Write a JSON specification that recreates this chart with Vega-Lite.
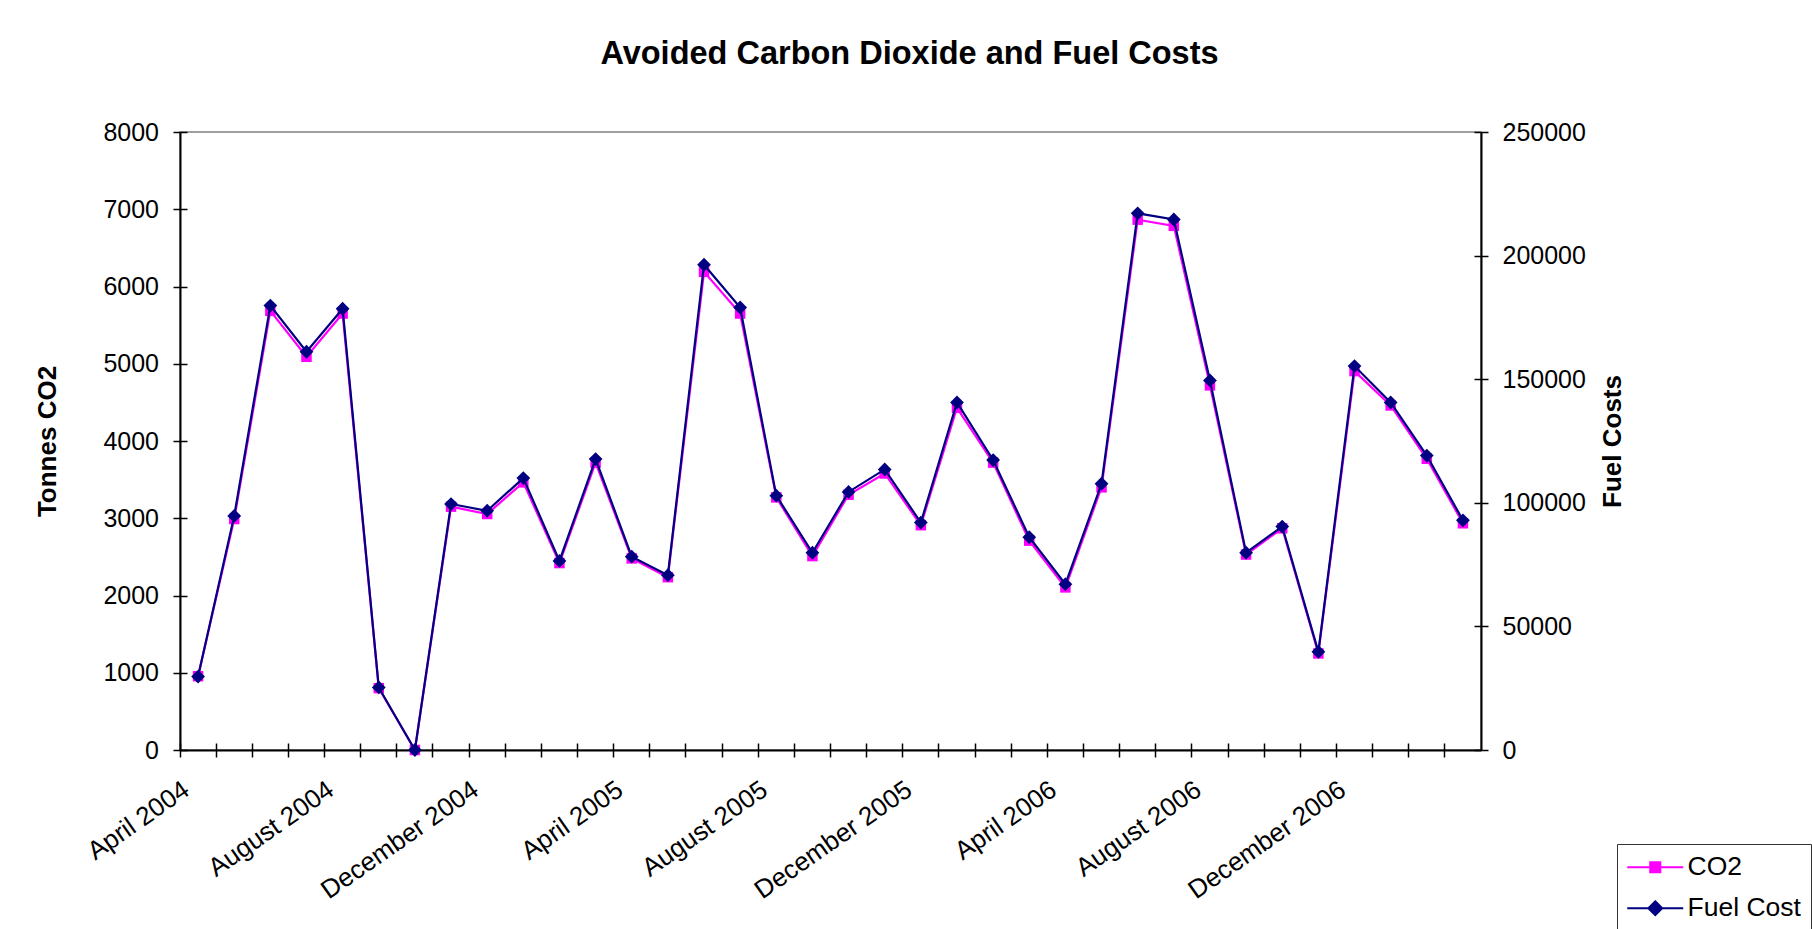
{
  "$schema": "https://vega.github.io/schema/vega-lite/v6.json",
  "width": 1301,
  "height": 618,
  "autosize": {"type": "none"},
  "padding": {"left": 180, "top": 132, "right": 331, "bottom": 179},
  "background": "white",
  "title": {
    "text": "Avoided Carbon Dioxide and Fuel Costs",
    "font": "Liberation Sans",
    "fontSize": 32.5,
    "fontWeight": "bold",
    "color": "black",
    "anchor": "middle",
    "frame": "group",
    "dx": 79,
    "offset": 24,
    "baseline": "alphabetic"
  },
  "data": {
    "values": [
      {"month": "April 2004", "CO2": 955, "FuelCost": 29700},
      {"month": "May 2004", "CO2": 2990, "FuelCost": 94700},
      {"month": "June 2004", "CO2": 5685, "FuelCost": 179800},
      {"month": "July 2004", "CO2": 5090, "FuelCost": 161100},
      {"month": "August 2004", "CO2": 5650, "FuelCost": 178500},
      {"month": "September 2004", "CO2": 800, "FuelCost": 25300},
      {"month": "October 2004", "CO2": 0, "FuelCost": 0},
      {"month": "November 2004", "CO2": 3150, "FuelCost": 99500},
      {"month": "December 2004", "CO2": 3055, "FuelCost": 96800},
      {"month": "January 2005", "CO2": 3465, "FuelCost": 110000},
      {"month": "February 2005", "CO2": 2420, "FuelCost": 76500},
      {"month": "March 2005", "CO2": 3720, "FuelCost": 117700},
      {"month": "April 2005", "CO2": 2480, "FuelCost": 78200},
      {"month": "May 2005", "CO2": 2237, "FuelCost": 70700},
      {"month": "June 2005", "CO2": 6190, "FuelCost": 196300},
      {"month": "July 2005", "CO2": 5650, "FuelCost": 179000},
      {"month": "August 2005", "CO2": 3270, "FuelCost": 102900},
      {"month": "September 2005", "CO2": 2510, "FuelCost": 79800},
      {"month": "October 2005", "CO2": 3305, "FuelCost": 104400},
      {"month": "November 2005", "CO2": 3580, "FuelCost": 113500},
      {"month": "December 2005", "CO2": 2910, "FuelCost": 92000},
      {"month": "January 2006", "CO2": 4430, "FuelCost": 140600},
      {"month": "February 2006", "CO2": 3720, "FuelCost": 117300},
      {"month": "March 2006", "CO2": 2710, "FuelCost": 86100},
      {"month": "April 2006", "CO2": 2105, "FuelCost": 67100},
      {"month": "May 2006", "CO2": 3400, "FuelCost": 107700},
      {"month": "June 2006", "CO2": 6865, "FuelCost": 217100},
      {"month": "July 2006", "CO2": 6785, "FuelCost": 214600},
      {"month": "August 2006", "CO2": 4720, "FuelCost": 149500},
      {"month": "September 2006", "CO2": 2530, "FuelCost": 79800},
      {"month": "October 2006", "CO2": 2870, "FuelCost": 90400},
      {"month": "November 2006", "CO2": 1250, "FuelCost": 39700},
      {"month": "December 2006", "CO2": 4905, "FuelCost": 155300},
      {"month": "January 2007", "CO2": 4460, "FuelCost": 140600},
      {"month": "February 2007", "CO2": 3770, "FuelCost": 119100},
      {"month": "March 2007", "CO2": 2935, "FuelCost": 92900}
    ]
  },
  "layer": [
    {
      "encoding": {
        "x": {
          "field": "month",
          "type": "ordinal",
          "sort": null,
          "scale": {"type": "band", "paddingInner": 0, "paddingOuter": 0},
          "axis": {
            "title": null,
            "orient": "bottom",
            "bandPosition": 0,
            "labelAngle": -35,
            "labelAlign": "right",
            "labelBaseline": "top",
            "labelFontSize": 26,
            "labelOffset": -19,
            "labelPadding": 19,
            "labelLimit": 0,
            "labelOverlap": false,
            "labelBound": false,
            "labelFlush": false,
            "labelExpr": "indexof(['April 2004','August 2004','December 2004','April 2005','August 2005','December 2005','April 2006','August 2006','December 2006'], datum.value) >= 0 ? datum.value : ''"
          }
        },
        "y": {
          "field": "CO2",
          "type": "quantitative",
          "scale": {"domain": [0, 8000], "nice": false, "zero": true}
        },
        "color": {
          "datum": "CO2",
          "scale": {"domain": ["CO2", "Fuel Cost"], "range": ["#FF00FF", "#000080"]},
          "legend": {
            "title": null,
            "orient": "none",
            "legendX": 1437,
            "legendY": 712,
            "strokeColor": "#333333",
            "fillColor": "white",
            "padding": 10,
            "labelFont": "Liberation Sans",
            "labelFontSize": 26.5,
            "labelColor": "black",
            "labelOffset": 19,
            "symbolOffset": 15,
            "rowPadding": 14,
            "symbolSize": 576,
            "symbolStrokeWidth": 2,
            "symbolType": "M-2.333,0L2.333,0",
            "encode": {
              "symbols": {
                "update": {
                  "shape": {"signal": "datum.value === 'CO2' ? 'M-2.333,0L2.333,0M-0.42,-0.42L0.42,-0.42L0.42,0.42L-0.42,0.42Z' : 'M-2.333,0L2.333,0M0,-0.58L0.58,0L0,0.58L-0.58,0Z'"},
                  "fill": {"signal": "datum.value === 'CO2' ? '#FF00FF' : '#000080'"},
                  "stroke": {"signal": "datum.value === 'CO2' ? '#FF00FF' : '#000080'"},
                  "strokeWidth": {"value": 2},
                  "opacity": {"value": 1}
                }
              }
            }
          }
        }
      },
      "layer": [
        {
          "mark": {"type": "line", "strokeWidth": 2.2},
          "encoding": {
            "y": {
              "field": "CO2",
              "type": "quantitative",
              "axis": {
                "title": "Tonnes CO2",
                "orient": "left",
                "values": [0, 1000, 2000, 3000, 4000, 5000, 6000, 7000, 8000],
                "format": "d",
                "labelPadding": 14.5,
                "titleX": -132.5,
                "titleY": 309,
                "titleAngle": -90,
                "titleAlign": "center",
                "titleBaseline": "middle"
              }
            }
          }
        },
        {
          "mark": {"type": "point", "shape": "square", "filled": true, "size": 110, "opacity": 1},
          "encoding": {
            "y": {
              "field": "CO2",
              "type": "quantitative",
              "axis": {
                "title": null,
                "orient": "left",
                "values": [0, 1000, 2000, 3000, 4000, 5000, 6000, 7000, 8000],
                "labels": false,
                "domain": false,
                "offset": -7,
                "tickSize": 7
              }
            }
          }
        }
      ],
      "resolve": {"axis": {"y": "independent"}}
    },
    {
      "encoding": {
        "x": {
          "field": "month",
          "type": "ordinal",
          "sort": null,
          "scale": {"type": "band", "paddingInner": 0, "paddingOuter": 0},
          "axis": {
            "title": null,
            "orient": "bottom",
            "bandPosition": 0,
            "labels": false,
            "domain": false,
            "offset": -7,
            "tickSize": 7
          }
        },
        "y": {
          "field": "FuelCost",
          "type": "quantitative",
          "scale": {"domain": [0, 250000], "nice": false, "zero": true}
        },
        "color": {"datum": "Fuel Cost"}
      },
      "layer": [
        {
          "mark": {"type": "line", "strokeWidth": 2.2},
          "encoding": {
            "y": {
              "field": "FuelCost",
              "type": "quantitative",
              "axis": {
                "title": "Fuel Costs",
                "orient": "right",
                "values": [0, 50000, 100000, 150000, 200000, 250000],
                "format": "d",
                "labelPadding": 14,
                "titleX": 131,
                "titleY": 309,
                "titleAngle": -90,
                "titleAlign": "center",
                "titleBaseline": "middle"
              }
            }
          }
        },
        {
          "mark": {"type": "point", "shape": "diamond", "filled": true, "size": 190, "opacity": 1},
          "encoding": {
            "y": {
              "field": "FuelCost",
              "type": "quantitative",
              "axis": {
                "title": null,
                "orient": "right",
                "values": [0, 50000, 100000, 150000, 200000, 250000],
                "labels": false,
                "domain": false,
                "offset": -7,
                "tickSize": 7
              }
            }
          }
        }
      ],
      "resolve": {"axis": {"y": "independent"}}
    }
  ],
  "resolve": {"scale": {"y": "independent"}, "axis": {"x": "independent"}},
  "config": {
    "font": "Liberation Sans",
    "view": {"stroke": "#808080", "strokeWidth": 1.5},
    "axis": {
      "grid": false,
      "domainColor": "black",
      "domainWidth": 2,
      "tickColor": "black",
      "tickWidth": 1.5,
      "tickSize": 7,
      "labelFont": "Liberation Sans",
      "labelFontSize": 25,
      "labelColor": "black",
      "titleFont": "Liberation Sans",
      "titleFontSize": 26,
      "titleFontWeight": "bold",
      "titleColor": "black"
    }
  }
}
